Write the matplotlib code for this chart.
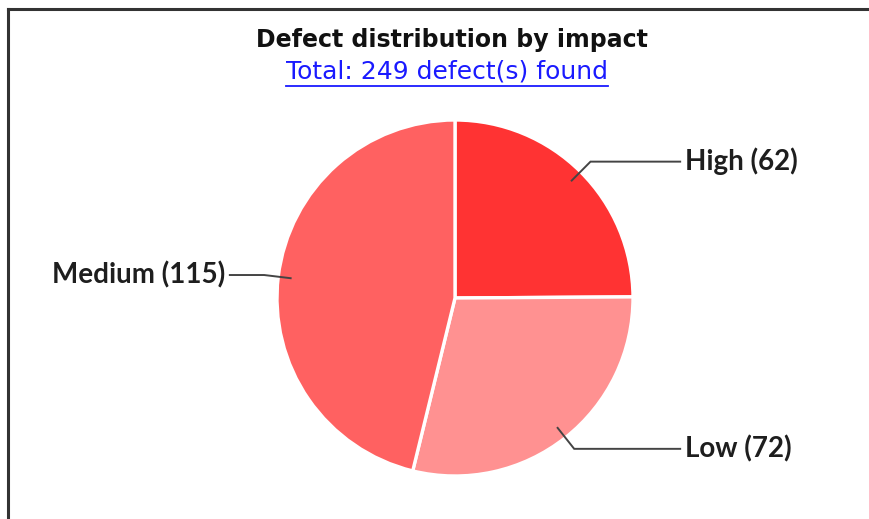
import numpy as np
import matplotlib
matplotlib.use("Agg")
import matplotlib.pyplot as plt
from matplotlib.lines import Line2D

# data
impacts = ["High", "Low", "Medium"]
counts = [62, 72, 115]
colors = ["#FF3333", "#FF9191", "#FF6161"]
title = "Defect distribution by impact"
subtitle = "Total: %d defect(s) found" % sum(counts)

W, H = 870, 519
fig = plt.figure(figsize=(W / 100, H / 100), dpi=100)
fig.patch.set_facecolor("white")

# frame lines (top + left only)
fig.add_artist(Line2D([8.5 / W, 1.0], [1 - 8.5 / H, 1 - 8.5 / H], color="#333333", lw=2.2))
fig.add_artist(Line2D([8.5 / W, 8.5 / W], [0, 1 - 8.5 / H], color="#333333", lw=2.2))

# pie axes: centre (455, 298), radius 178 px
cx, cy, r = 455, 298, 178
ax = fig.add_axes([(cx - r) / W, (H - cy - r) / H, 2 * r / W, 2 * r / H])
wedges, _ = ax.pie(counts, colors=colors, startangle=90, counterclock=False,
                   wedgeprops=dict(edgecolor="white", linewidth=2.4))
ax.set_xlim(-1, 1)
ax.set_ylim(-1, 1)
ax.set_aspect("equal")
ax.axis("off")

lab_font = dict(family="Lato", fontsize=20, fontweight="bold", color="#1e1e1e")
for w, name, n in zip(wedges, impacts, counts):
    ang = np.deg2rad((w.theta1 + w.theta2) / 2)
    c, s = np.cos(ang), np.sin(ang)
    side = 1 if c > 0 else -1
    x0, y0 = 0.93 * c, 0.93 * s
    x1, y1 = 1.08 * c, 1.08 * s
    x2 = 1.265 * side
    ax.plot([x0, x1, x2], [y0, y1, y1], color="#444444", lw=1.4,
            clip_on=False, solid_joinstyle="miter")
    ax.text(1.29 * side, y1, "%s (%d)" % (name, n),
            ha="left" if side > 0 else "right", va="center", **lab_font)

fig.text(452 / W, 1 - 40 / H, title, ha="center", va="center",
         fontsize=17, fontweight="bold", family="DejaVu Sans", color="#111111")
st = fig.text(447 / W, 1 - 72 / H, subtitle, ha="center", va="center",
              fontsize=18, family="DejaVu Sans", color="#1a1aff")

# underline the link-style subtitle
fig.canvas.draw()
bb = st.get_window_extent().transformed(fig.transFigure.inverted())
fig.add_artist(Line2D([bb.x0, bb.x1], [1 - 86 / H, 1 - 86 / H], color="#1a1aff", lw=1.3))

fig.savefig("out.png", dpi=100, facecolor="white")
